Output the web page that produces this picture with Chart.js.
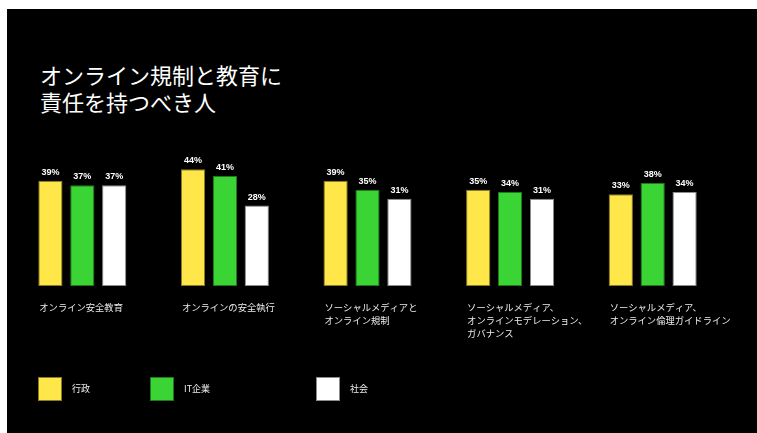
<!DOCTYPE html>
<html lang="ja">
<head>
<meta charset="utf-8">
<title>オンライン規制と教育に責任を持つべき人</title>
<script src="https://cdn.jsdelivr.net/npm/chart.js@4.4.1/dist/chart.umd.min.js"></script>
<style>
    html, body { margin: 0; padding: 0; background: #ffffff; }
    #stage {
        position: absolute; left: 7px; top: 9px; right: 0; bottom: 0;
        background: #000000;
    }
    #title {
        position: absolute; left: 40px; top: 61px; margin: 0;
        font-family: "Noto Sans CJK JP", "Noto Sans", sans-serif;
        font-weight: 400; font-size: 22px; line-height: 27px;
        color: #ffffff;
    }
    #chartBox { position: absolute; left: 0; top: 0; width: 757px; height: 433px; }
</style>
</head>
<body>
<div id="stage"></div>
<h1 id="title">オンライン規制と教育に<br>責任を持つべき人</h1>
<div id="chartBox"><canvas id="chart" width="757" height="433"></canvas></div>

<script>
// 📊 DATA: categories and the three series (values in %)
const categories = [
    ['オンライン安全教育'],
    ['オンラインの安全執行'],
    ['ソーシャルメディアと', 'オンライン規制'],
    ['ソーシャルメディア、', 'オンラインモデレーション、', 'ガバナンス'],
    ['ソーシャルメディア、', 'オンライン倫理ガイドライン']
];
const seriesNames = ['行政', 'IT企業', '社会'];
const governmentValues = [39, 44, 39, 35, 33];
const itCompanyValues = [37, 41, 35, 34, 38];
const societyValues = [37, 28, 31, 31, 34];

// 🎨 STYLE
const fills = ['#ffe74a', '#3ad534', '#ffffff'];
const borders = ['#8a7c22', '#1f7a1c', '#8c8c8c'];
const legendX = [38, 150, 316]; // left edge of each legend box
const valueMin = -7.4; // bars start at the bottom of the plot area
const valueMax = 56.9;

const cjkFont = '"Noto Sans CJK JP", "Noto Sans", sans-serif';

// 🏷️ value labels above every bar
const valueLabels = {
    id: 'valueLabels',
    afterDatasetsDraw(chart) {
        const ctx = chart.ctx;
        ctx.save();
        ctx.fillStyle = '#ffffff';
        ctx.font = 'bold 9px "Liberation Sans", Arial, sans-serif';
        ctx.textAlign = 'center';
        ctx.textBaseline = 'bottom';
        chart.data.datasets.forEach((ds, i) => {
            chart.getDatasetMeta(i).data.forEach((bar, j) => {
                ctx.fillText(ds.data[j] + '%', bar.x, bar.y - 4);
            });
        });
        ctx.restore();
    }
};

// 🏷️ category labels, left aligned with the first bar of each group
const groupLabels = {
    id: 'groupLabels',
    afterDraw(chart) {
        const ctx = chart.ctx;
        const first = chart.getDatasetMeta(0).data;
        ctx.save();
        ctx.fillStyle = '#ececec';
        ctx.font = '9.3px ' + cjkFont;
        ctx.textAlign = 'left';
        ctx.textBaseline = 'middle';
        categories.forEach((lines, i) => {
            const bar = first[i];
            const left = bar.x - bar.width / 2 + 1;
            lines.forEach((line, k) => {
                ctx.fillText(line, left, chart.chartArea.bottom + 21 + k * 13);
            });
        });
        ctx.restore();
    }
};

// 🔲 legend drawn with the dataset colours
const boxLegend = {
    id: 'boxLegend',
    afterDraw(chart) {
        const ctx = chart.ctx;
        ctx.save();
        ctx.font = '9px ' + cjkFont;
        ctx.textAlign = 'left';
        ctx.textBaseline = 'middle';
        chart.data.datasets.forEach((ds, i) => {
            const x = legendX[i];
            const y = 377;
            ctx.fillStyle = ds.backgroundColor;
            ctx.fillRect(x, y, 24, 24);
            ctx.strokeStyle = ds.borderColor;
            ctx.lineWidth = 1;
            ctx.strokeRect(x + 0.5, y + 0.5, 23, 23);
            ctx.fillStyle = '#ececec';
            ctx.fillText(ds.label, x + 34, y + 12);
        });
        ctx.restore();
    }
};

const datasets = [governmentValues, itCompanyValues, societyValues].map((values, i) => ({
    label: seriesNames[i],
    data: values,
    backgroundColor: fills[i],
    borderColor: borders[i],
    borderWidth: 1,
    borderSkipped: false,
    base: valueMin,
    categoryPercentage: 0.671,
    barPercentage: 0.76
}));

new Chart(document.getElementById('chart'), {
    type: 'bar',
    data: {
        labels: categories.map(c => c.join('')),
        datasets: datasets
    },
    options: {
        responsive: false,
        animation: false,
        layout: { padding: { left: 11, right: 33, top: 140, bottom: 147 } },
        scales: {
            x: { display: false },
            y: { display: false, min: valueMin, max: valueMax }
        },
        plugins: {
            legend: { display: false },
            tooltip: { enabled: false },
            title: { display: false }
        }
    },
    plugins: [valueLabels, groupLabels, boxLegend]
});
</script>
</body>
</html>
